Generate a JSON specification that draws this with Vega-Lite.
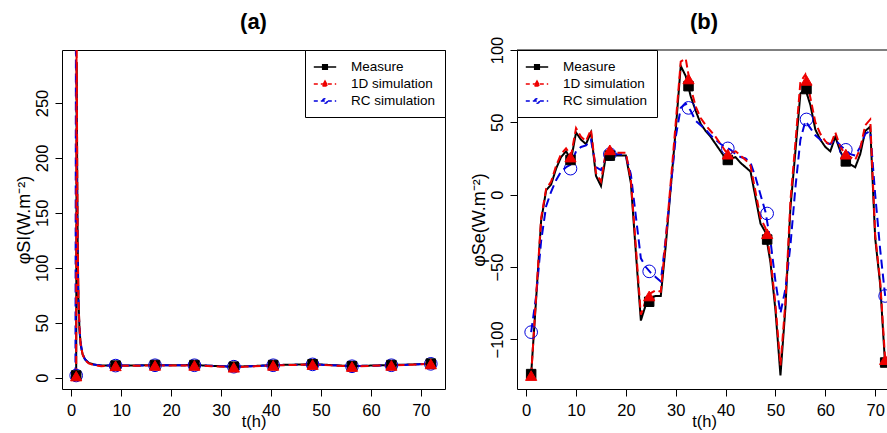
{
  "$schema": "https://vega.github.io/schema/vega-lite/v6.json",
  "padding": {"left": 14, "top": 10, "right": 0, "bottom": 0},
  "background": "white",
  "config": {
    "font": "Liberation Sans",
    "view": {"stroke": "black", "strokeWidth": 1},
    "axis": {"grid": false, "domain": false, "tickSize": 7, "tickColor": "black", "tickWidth": 1, "labelColor": "black", "titleColor": "black", "labelFontSize": 16.5, "titleFontSize": 16.5, "titleFontWeight": "normal", "labelFont": "Liberation Sans", "titleFont": "Liberation Sans"},
    "axisX": {"labelPadding": 6, "titlePadding": -5},
    "axisY": {"labelAngle": 270, "labelAlign": "center", "labelBaseline": "bottom", "labelPadding": 5, "titlePadding": 1, "titleFontSize": 18},
    "title": {"fontSize": 22, "fontWeight": "bold", "color": "black", "font": "Liberation Sans", "offset": 16, "anchor": "middle", "frame": "group"},
    "legend": {"title": null, "offset": 0, "padding": 9, "symbolOffset": 3, "labelOffset": 18, "rowPadding": 2, "labelFontSize": 13.5, "labelColor": "black", "labelFont": "Liberation Sans", "strokeColor": "black", "fillColor": "white", "symbolSize": 196, "symbolStrokeWidth": 1.5}
  },
  "datasets": {
    "a_l": [
      {"t":1,"s":"Measure","v":2},{"t":1.1,"s":"Measure","v":287},{"t":1.2,"s":"Measure","v":190},{"t":1.3,"s":"Measure","v":120},{"t":1.45,"s":"Measure","v":72},{"t":1.65,"s":"Measure","v":45},{"t":1.9,"s":"Measure","v":30},{"t":2.3,"s":"Measure","v":21},{"t":2.8,"s":"Measure","v":16.5},{"t":3.5,"s":"Measure","v":13.5},{"t":4.5,"s":"Measure","v":12},{"t":6,"s":"Measure","v":11},{"t":8.89,"s":"Measure","v":11},{"t":12,"s":"Measure","v":11},{"t":16.78,"s":"Measure","v":11.5},{"t":20,"s":"Measure","v":11.3},{"t":24.67,"s":"Measure","v":11.5},{"t":28,"s":"Measure","v":10.8},{"t":32.56,"s":"Measure","v":10},{"t":36,"s":"Measure","v":10.5},{"t":40.44,"s":"Measure","v":11.5},{"t":44,"s":"Measure","v":11.8},{"t":48.33,"s":"Measure","v":12.3},{"t":52,"s":"Measure","v":11.5},{"t":56.22,"s":"Measure","v":10.5},{"t":60,"s":"Measure","v":11},{"t":64.11,"s":"Measure","v":11.5},{"t":68,"s":"Measure","v":12},{"t":72,"s":"Measure","v":12.8},
      {"t":0.85,"s":"RC simulation","v":1},{"t":0.95,"s":"RC simulation","v":310},{"t":1.1,"s":"RC simulation","v":220},{"t":1.2,"s":"RC simulation","v":150},{"t":1.35,"s":"RC simulation","v":90},{"t":1.55,"s":"RC simulation","v":55},{"t":1.8,"s":"RC simulation","v":35},{"t":2.2,"s":"RC simulation","v":23},{"t":2.7,"s":"RC simulation","v":17},{"t":3.4,"s":"RC simulation","v":14},{"t":4.5,"s":"RC simulation","v":12},{"t":6,"s":"RC simulation","v":11},{"t":8.89,"s":"RC simulation","v":11},{"t":12,"s":"RC simulation","v":11},{"t":16.78,"s":"RC simulation","v":11.3},{"t":20,"s":"RC simulation","v":11.2},{"t":24.67,"s":"RC simulation","v":11.3},{"t":28,"s":"RC simulation","v":10.8},{"t":32.56,"s":"RC simulation","v":10},{"t":36,"s":"RC simulation","v":10.4},{"t":40.44,"s":"RC simulation","v":11.3},{"t":44,"s":"RC simulation","v":11.6},{"t":48.33,"s":"RC simulation","v":12.1},{"t":52,"s":"RC simulation","v":11.4},{"t":56.22,"s":"RC simulation","v":10.4},{"t":60,"s":"RC simulation","v":10.9},{"t":64.11,"s":"RC simulation","v":11.3},{"t":68,"s":"RC simulation","v":11.9},{"t":72,"s":"RC simulation","v":12.6},
      {"t":1,"s":"1D simulation","v":1.5},{"t":1.08,"s":"1D simulation","v":330},{"t":1.2,"s":"1D simulation","v":195},{"t":1.3,"s":"1D simulation","v":122},{"t":1.45,"s":"1D simulation","v":73},{"t":1.65,"s":"1D simulation","v":46},{"t":1.9,"s":"1D simulation","v":30},{"t":2.3,"s":"1D simulation","v":21},{"t":2.8,"s":"1D simulation","v":16},{"t":3.5,"s":"1D simulation","v":13},{"t":4.5,"s":"1D simulation","v":11.5},{"t":6,"s":"1D simulation","v":10.5},{"t":8.89,"s":"1D simulation","v":10.8},{"t":12,"s":"1D simulation","v":10.8},{"t":16.78,"s":"1D simulation","v":11.2},{"t":20,"s":"1D simulation","v":11},{"t":24.67,"s":"1D simulation","v":11.2},{"t":28,"s":"1D simulation","v":10.5},{"t":32.56,"s":"1D simulation","v":9.5},{"t":36,"s":"1D simulation","v":10.2},{"t":40.44,"s":"1D simulation","v":11.2},{"t":44,"s":"1D simulation","v":11.5},{"t":48.33,"s":"1D simulation","v":12},{"t":52,"s":"1D simulation","v":11.2},{"t":56.22,"s":"1D simulation","v":10.2},{"t":60,"s":"1D simulation","v":10.8},{"t":64.11,"s":"1D simulation","v":11.2},{"t":68,"s":"1D simulation","v":11.8},{"t":72,"s":"1D simulation","v":12.5}
    ],
    "a_m": [
      {"t":1,"s":"RC simulation","v":2},{"t":8.89,"s":"RC simulation","v":11},{"t":16.78,"s":"RC simulation","v":11.3},{"t":24.67,"s":"RC simulation","v":11.3},{"t":32.56,"s":"RC simulation","v":10},{"t":40.44,"s":"RC simulation","v":11.3},{"t":48.33,"s":"RC simulation","v":12.1},{"t":56.22,"s":"RC simulation","v":10.4},{"t":64.11,"s":"RC simulation","v":11.3},{"t":72,"s":"RC simulation","v":12.6},
      {"t":1,"s":"Measure","v":2},{"t":8.89,"s":"Measure","v":11},{"t":16.78,"s":"Measure","v":11.5},{"t":24.67,"s":"Measure","v":11.5},{"t":32.56,"s":"Measure","v":10},{"t":40.44,"s":"Measure","v":11.5},{"t":48.33,"s":"Measure","v":12.3},{"t":56.22,"s":"Measure","v":10.5},{"t":64.11,"s":"Measure","v":11.5},{"t":72,"s":"Measure","v":12.8},
      {"t":1,"s":"1D simulation","v":1.5},{"t":8.89,"s":"1D simulation","v":10.8},{"t":16.78,"s":"1D simulation","v":11.2},{"t":24.67,"s":"1D simulation","v":11.2},{"t":32.56,"s":"1D simulation","v":9.5},{"t":40.44,"s":"1D simulation","v":11.2},{"t":48.33,"s":"1D simulation","v":12},{"t":56.22,"s":"1D simulation","v":10.2},{"t":64.11,"s":"1D simulation","v":11.2},{"t":72,"s":"1D simulation","v":12.5}
    ],
    "b_l": [
      {"t":1,"s":"Measure","v":-124},{"t":2,"s":"Measure","v":-72},{"t":3,"s":"Measure","v":-18},{"t":4,"s":"Measure","v":3},{"t":5,"s":"Measure","v":7},{"t":6,"s":"Measure","v":18},{"t":7,"s":"Measure","v":26},{"t":8,"s":"Measure","v":30},{"t":9,"s":"Measure","v":24},{"t":10,"s":"Measure","v":43},{"t":11,"s":"Measure","v":38},{"t":12,"s":"Measure","v":35},{"t":13,"s":"Measure","v":43},{"t":14,"s":"Measure","v":13},{"t":15,"s":"Measure","v":6},{"t":16,"s":"Measure","v":27},{"t":17,"s":"Measure","v":27},{"t":18,"s":"Measure","v":27},{"t":19,"s":"Measure","v":27},{"t":20,"s":"Measure","v":27},{"t":21,"s":"Measure","v":8},{"t":22,"s":"Measure","v":-40},{"t":23,"s":"Measure","v":-87},{"t":24,"s":"Measure","v":-76},{"t":25,"s":"Measure","v":-71},{"t":26,"s":"Measure","v":-70},{"t":27,"s":"Measure","v":-70},{"t":28,"s":"Measure","v":-35},{"t":29,"s":"Measure","v":5},{"t":30,"s":"Measure","v":45},{"t":31,"s":"Measure","v":89},{"t":32,"s":"Measure","v":82},{"t":33,"s":"Measure","v":68},{"t":34,"s":"Measure","v":58},{"t":35,"s":"Measure","v":49},{"t":36,"s":"Measure","v":44},{"t":37,"s":"Measure","v":40},{"t":38,"s":"Measure","v":35},{"t":39,"s":"Measure","v":30},{"t":40,"s":"Measure","v":25},{"t":41,"s":"Measure","v":25},{"t":42,"s":"Measure","v":26},{"t":43,"s":"Measure","v":22},{"t":44,"s":"Measure","v":19},{"t":45,"s":"Measure","v":16},{"t":46,"s":"Measure","v":-2},{"t":47,"s":"Measure","v":-20},{"t":48,"s":"Measure","v":-26},{"t":49,"s":"Measure","v":-47},{"t":50,"s":"Measure","v":-80},{"t":51,"s":"Measure","v":-125},{"t":52,"s":"Measure","v":-78},{"t":53,"s":"Measure","v":-9},{"t":54,"s":"Measure","v":30},{"t":55,"s":"Measure","v":70},{"t":56,"s":"Measure","v":73},{"t":57,"s":"Measure","v":62},{"t":58,"s":"Measure","v":45},{"t":59,"s":"Measure","v":38},{"t":60,"s":"Measure","v":33},{"t":61,"s":"Measure","v":30},{"t":62,"s":"Measure","v":40},{"t":63,"s":"Measure","v":30},{"t":64,"s":"Measure","v":23},{"t":65,"s":"Measure","v":21},{"t":66,"s":"Measure","v":19},{"t":67,"s":"Measure","v":28},{"t":68,"s":"Measure","v":44},{"t":69,"s":"Measure","v":47},{"t":70,"s":"Measure","v":-30},{"t":71,"s":"Measure","v":-62},{"t":72,"s":"Measure","v":-118},
      {"t":1,"s":"RC simulation","v":-95},{"t":2,"s":"RC simulation","v":-70},{"t":3,"s":"RC simulation","v":-32},{"t":4,"s":"RC simulation","v":-8},{"t":5,"s":"RC simulation","v":2},{"t":6,"s":"RC simulation","v":10},{"t":7,"s":"RC simulation","v":16},{"t":8,"s":"RC simulation","v":19},{"t":9,"s":"RC simulation","v":21},{"t":10,"s":"RC simulation","v":30},{"t":11,"s":"RC simulation","v":33},{"t":12,"s":"RC simulation","v":34},{"t":13,"s":"RC simulation","v":38},{"t":14,"s":"RC simulation","v":19},{"t":15,"s":"RC simulation","v":17},{"t":16,"s":"RC simulation","v":26},{"t":17,"s":"RC simulation","v":28},{"t":18,"s":"RC simulation","v":28},{"t":19,"s":"RC simulation","v":28},{"t":20,"s":"RC simulation","v":27},{"t":21,"s":"RC simulation","v":14},{"t":22,"s":"RC simulation","v":-15},{"t":23,"s":"RC simulation","v":-44},{"t":24,"s":"RC simulation","v":-50},{"t":25,"s":"RC simulation","v":-54},{"t":26,"s":"RC simulation","v":-57},{"t":27,"s":"RC simulation","v":-60},{"t":28,"s":"RC simulation","v":-30},{"t":29,"s":"RC simulation","v":5},{"t":30,"s":"RC simulation","v":40},{"t":31,"s":"RC simulation","v":60},{"t":32,"s":"RC simulation","v":63},{"t":33,"s":"RC simulation","v":58},{"t":34,"s":"RC simulation","v":51},{"t":35,"s":"RC simulation","v":48},{"t":36,"s":"RC simulation","v":45},{"t":37,"s":"RC simulation","v":41},{"t":38,"s":"RC simulation","v":38},{"t":39,"s":"RC simulation","v":35},{"t":40,"s":"RC simulation","v":33},{"t":41,"s":"RC simulation","v":31},{"t":42,"s":"RC simulation","v":28},{"t":43,"s":"RC simulation","v":26},{"t":44,"s":"RC simulation","v":25},{"t":45,"s":"RC simulation","v":22},{"t":46,"s":"RC simulation","v":12},{"t":47,"s":"RC simulation","v":0},{"t":48,"s":"RC simulation","v":-12},{"t":49,"s":"RC simulation","v":-32},{"t":50,"s":"RC simulation","v":-60},{"t":51,"s":"RC simulation","v":-82},{"t":52,"s":"RC simulation","v":-65},{"t":53,"s":"RC simulation","v":-35},{"t":54,"s":"RC simulation","v":5},{"t":55,"s":"RC simulation","v":38},{"t":56,"s":"RC simulation","v":51},{"t":57,"s":"RC simulation","v":46},{"t":58,"s":"RC simulation","v":41},{"t":59,"s":"RC simulation","v":38},{"t":60,"s":"RC simulation","v":36},{"t":61,"s":"RC simulation","v":35},{"t":62,"s":"RC simulation","v":38},{"t":63,"s":"RC simulation","v":34},{"t":64,"s":"RC simulation","v":31},{"t":65,"s":"RC simulation","v":28},{"t":66,"s":"RC simulation","v":27},{"t":67,"s":"RC simulation","v":33},{"t":68,"s":"RC simulation","v":42},{"t":69,"s":"RC simulation","v":44},{"t":70,"s":"RC simulation","v":0},{"t":71,"s":"RC simulation","v":-38},{"t":72,"s":"RC simulation","v":-70},
      {"t":1,"s":"1D simulation","v":-125},{"t":2,"s":"1D simulation","v":-70},{"t":3,"s":"1D simulation","v":-16},{"t":4,"s":"1D simulation","v":4},{"t":5,"s":"1D simulation","v":9},{"t":6,"s":"1D simulation","v":20},{"t":7,"s":"1D simulation","v":28},{"t":8,"s":"1D simulation","v":32},{"t":9,"s":"1D simulation","v":27},{"t":10,"s":"1D simulation","v":46},{"t":11,"s":"1D simulation","v":40},{"t":12,"s":"1D simulation","v":37},{"t":13,"s":"1D simulation","v":45},{"t":14,"s":"1D simulation","v":15},{"t":15,"s":"1D simulation","v":9},{"t":16,"s":"1D simulation","v":30},{"t":17,"s":"1D simulation","v":31},{"t":18,"s":"1D simulation","v":29},{"t":19,"s":"1D simulation","v":29},{"t":20,"s":"1D simulation","v":29},{"t":21,"s":"1D simulation","v":10},{"t":22,"s":"1D simulation","v":-36},{"t":23,"s":"1D simulation","v":-83},{"t":24,"s":"1D simulation","v":-73},{"t":25,"s":"1D simulation","v":-68},{"t":26,"s":"1D simulation","v":-66},{"t":27,"s":"1D simulation","v":-67},{"t":28,"s":"1D simulation","v":-31},{"t":29,"s":"1D simulation","v":9},{"t":30,"s":"1D simulation","v":50},{"t":31,"s":"1D simulation","v":92},{"t":32,"s":"1D simulation","v":94},{"t":33,"s":"1D simulation","v":74},{"t":34,"s":"1D simulation","v":61},{"t":35,"s":"1D simulation","v":53},{"t":36,"s":"1D simulation","v":48},{"t":37,"s":"1D simulation","v":44},{"t":38,"s":"1D simulation","v":40},{"t":39,"s":"1D simulation","v":35},{"t":40,"s":"1D simulation","v":30},{"t":41,"s":"1D simulation","v":29},{"t":42,"s":"1D simulation","v":30},{"t":43,"s":"1D simulation","v":27},{"t":44,"s":"1D simulation","v":24},{"t":45,"s":"1D simulation","v":20},{"t":46,"s":"1D simulation","v":2},{"t":47,"s":"1D simulation","v":-16},{"t":48,"s":"1D simulation","v":-23},{"t":49,"s":"1D simulation","v":-44},{"t":50,"s":"1D simulation","v":-76},{"t":51,"s":"1D simulation","v":-118},{"t":52,"s":"1D simulation","v":-74},{"t":53,"s":"1D simulation","v":-4},{"t":54,"s":"1D simulation","v":36},{"t":55,"s":"1D simulation","v":78},{"t":56,"s":"1D simulation","v":83},{"t":57,"s":"1D simulation","v":67},{"t":58,"s":"1D simulation","v":50},{"t":59,"s":"1D simulation","v":42},{"t":60,"s":"1D simulation","v":37},{"t":61,"s":"1D simulation","v":34},{"t":62,"s":"1D simulation","v":43},{"t":63,"s":"1D simulation","v":33},{"t":64,"s":"1D simulation","v":28},{"t":65,"s":"1D simulation","v":26},{"t":66,"s":"1D simulation","v":24},{"t":67,"s":"1D simulation","v":32},{"t":68,"s":"1D simulation","v":48},{"t":69,"s":"1D simulation","v":52},{"t":70,"s":"1D simulation","v":-28},{"t":71,"s":"1D simulation","v":-60},{"t":72,"s":"1D simulation","v":-114}
    ],
    "b_m": [
      {"t":1,"s":"RC simulation","v":-95},{"t":8.89,"s":"RC simulation","v":18},{"t":16.78,"s":"RC simulation","v":28},{"t":24.67,"s":"RC simulation","v":-53},{"t":32.56,"s":"RC simulation","v":60},{"t":40.44,"s":"RC simulation","v":32},{"t":48.33,"s":"RC simulation","v":-13},{"t":56.22,"s":"RC simulation","v":52},{"t":64.11,"s":"RC simulation","v":31},{"t":72,"s":"RC simulation","v":-70},
      {"t":1,"s":"Measure","v":-124},{"t":8.89,"s":"Measure","v":24},{"t":16.78,"s":"Measure","v":27},{"t":24.67,"s":"Measure","v":-74},{"t":32.56,"s":"Measure","v":75},{"t":40.44,"s":"Measure","v":24},{"t":48.33,"s":"Measure","v":-31},{"t":56.22,"s":"Measure","v":73},{"t":64.11,"s":"Measure","v":23},{"t":72,"s":"Measure","v":-116},
      {"t":1,"s":"1D simulation","v":-125},{"t":8.89,"s":"1D simulation","v":26},{"t":16.78,"s":"1D simulation","v":31},{"t":24.67,"s":"1D simulation","v":-70},{"t":32.56,"s":"1D simulation","v":80},{"t":40.44,"s":"1D simulation","v":28},{"t":48.33,"s":"1D simulation","v":-27},{"t":56.22,"s":"1D simulation","v":79},{"t":64.11,"s":"1D simulation","v":28},{"t":72,"s":"1D simulation","v":-114}
    ]
  },
  "hconcat": [
    {
      "width": 383,
      "height": 339,
      "title": {"text": "(a)", "offset": 16},
      "layer": [
        {
          "data": {"name": "a_l"},
          "mark": {"type": "line", "strokeWidth": 2, "clip": true},
          "encoding": {
            "x": {"field": "t", "type": "quantitative", "scale": {"domain": [-1.84, 74.84], "nice": false, "zero": false}, "axis": {"values": [0, 10, 20, 30, 40, 50, 60, 70], "title": "t(h)"}},
            "y": {"field": "v", "type": "quantitative", "scale": {"domain": [-10.3, 298.2], "nice": false, "zero": false}, "axis": {"values": [0, 50, 100, 150, 200, 250], "title": "φSI(W.m⁻²)"}},
            "stroke": {"field": "s", "type": "nominal", "scale": {"domain": ["Measure", "1D simulation", "RC simulation"], "range": ["black", "#ee0000", "#0000dd"]},
              "legend": {"orient": "top-right",
                "encode": {"symbols": {"update": {
                  "shape": [{"test": "datum.value === 'Measure'", "value": "M-1.6,0H1.6M-0.33,-0.33H0.33V0.33H-0.33Z"}, {"test": "datum.value === '1D simulation'", "value": "M-1.6,0H1.6M0,-0.42L0.4,0.3H-0.4Z"}, {"value": "M-1.6,0H1.6M0.33,0A0.33,0.33,0,1,1,-0.33,0A0.33,0.33,0,1,1,0.33,0"}],
                  "fill": [{"test": "datum.value === 'Measure'", "value": "black"}, {"test": "datum.value === '1D simulation'", "value": "#ee0000"}, {"value": "transparent"}],
                  "strokeDash": [{"test": "datum.value === 'Measure'", "value": [1, 0]}, {"value": [4, 3]}],
                  "size": {"value": 196},
                  "strokeWidth": {"value": 1.5}
                }}}}},
            "strokeDash": {"field": "s", "type": "nominal", "scale": {"domain": ["Measure", "1D simulation", "RC simulation"], "range": [[1, 0], [8, 4], [9, 5]]}, "legend": null}
          }
        },
        {
          "data": {"name": "a_m"},
          "mark": {"type": "point", "filled": true, "strokeWidth": 1, "opacity": 1, "clip": true},
          "encoding": {
            "x": {"field": "t", "type": "quantitative"},
            "y": {"field": "v", "type": "quantitative"},
            "shape": {"field": "s", "type": "nominal", "scale": {"domain": ["Measure", "1D simulation", "RC simulation"], "range": ["square", "triangle-up", "circle"]}, "legend": null},
            "stroke": {"field": "s", "type": "nominal", "legend": null},
            "fill": {"field": "s", "type": "nominal", "scale": {"domain": ["Measure", "1D simulation", "RC simulation"], "range": ["black", "#ee0000", "transparent"]}, "legend": null},
            "size": {"field": "s", "type": "nominal", "scale": {"domain": ["Measure", "1D simulation", "RC simulation"], "range": [90, 160, 55]}, "legend": null}
          }
        }
      ]
    },
    {
      "width": 374,
      "height": 339,
      "title": {"text": "(b)", "offset": 2},
      "view": {"stroke": null},
      "layer": [
        {
          "data": {"name": "b_l"},
          "mark": {"type": "line", "strokeWidth": 2, "clip": true},
          "encoding": {
            "x": {"field": "t", "type": "quantitative", "scale": {"domain": [-1.84, 73.17], "nice": false, "zero": false}, "axis": {"values": [0, 10, 20, 30, 40, 50, 60, 70], "title": "t(h)", "domain": true, "domainColor": "black", "domainWidth": 1}},
            "y": {"field": "v", "type": "quantitative", "scale": {"domain": [-134.3, 100], "nice": false, "zero": false}, "axis": {"values": [-100, -50, 0, 50, 100], "title": "φSe(W.m⁻²)", "domain": true, "domainColor": "black", "domainWidth": 1}},
            "stroke": {"field": "s", "type": "nominal", "scale": {"domain": ["Measure", "1D simulation", "RC simulation"], "range": ["black", "#ee0000", "#0000dd"]},
              "legend": {"orient": "top-left",
                "encode": {"symbols": {"update": {
                  "shape": [{"test": "datum.value === 'Measure'", "value": "M-1.6,0H1.6M-0.33,-0.33H0.33V0.33H-0.33Z"}, {"test": "datum.value === '1D simulation'", "value": "M-1.6,0H1.6M0,-0.42L0.4,0.3H-0.4Z"}, {"value": "M-1.6,0H1.6M0.33,0A0.33,0.33,0,1,1,-0.33,0A0.33,0.33,0,1,1,0.33,0"}],
                  "fill": [{"test": "datum.value === 'Measure'", "value": "black"}, {"test": "datum.value === '1D simulation'", "value": "#ee0000"}, {"value": "transparent"}],
                  "strokeDash": [{"test": "datum.value === 'Measure'", "value": [1, 0]}, {"value": [4, 3]}],
                  "size": {"value": 196},
                  "strokeWidth": {"value": 1.5}
                }}}}},
            "strokeDash": {"field": "s", "type": "nominal", "scale": {"domain": ["Measure", "1D simulation", "RC simulation"], "range": [[1, 0], [8, 4], [9, 5]]}, "legend": null}
          }
        },
        {
          "data": {"name": "b_m"},
          "mark": {"type": "point", "filled": true, "strokeWidth": 1, "opacity": 1, "clip": true},
          "encoding": {
            "x": {"field": "t", "type": "quantitative"},
            "y": {"field": "v", "type": "quantitative"},
            "shape": {"field": "s", "type": "nominal", "scale": {"domain": ["Measure", "1D simulation", "RC simulation"], "range": ["square", "triangle-up", "circle"]}, "legend": null},
            "stroke": {"field": "s", "type": "nominal", "legend": null},
            "fill": {"field": "s", "type": "nominal", "scale": {"domain": ["Measure", "1D simulation", "RC simulation"], "range": ["black", "#ee0000", "transparent"]}, "legend": null},
            "size": {"field": "s", "type": "nominal", "scale": {"domain": ["Measure", "1D simulation", "RC simulation"], "range": [90, 160, 55]}, "legend": null}
          }
        },
        {
          "data": {"values": [{}]},
          "mark": {"type": "rule", "color": "black", "strokeWidth": 1},
          "encoding": {"y": {"datum": 100}}
        }
      ]
    }
  ],
  "spacing": 72,
  "bounds": "flush"
}
